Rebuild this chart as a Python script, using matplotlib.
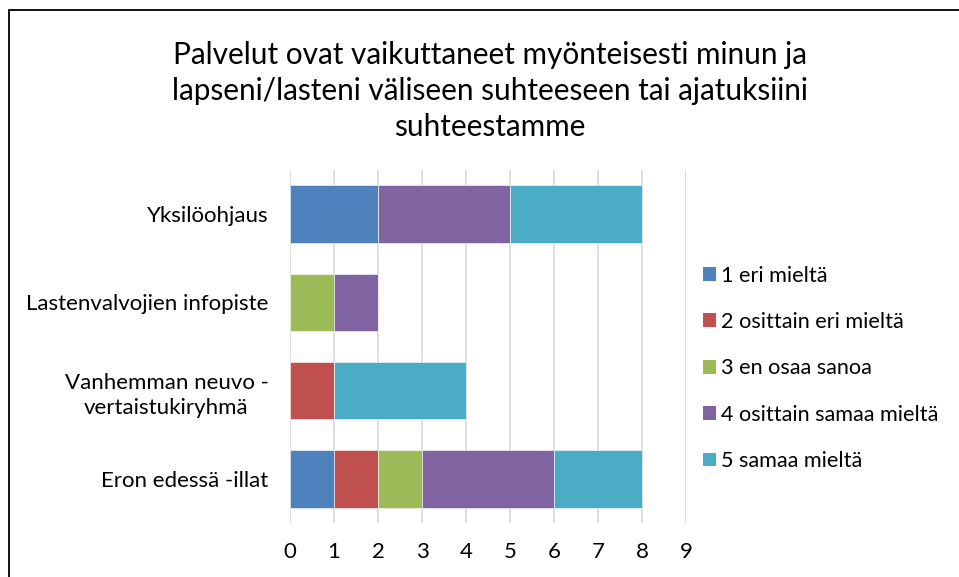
import numpy as np
import matplotlib.pyplot as plt
from matplotlib.patches import Rectangle, Patch

plt.rcParams['font.family'] = ['Lato', 'DejaVu Sans']

categories = ["Eron edessä -illat", "Vanhemman neuvo -\nvertaistukiryhmä",
              "Lastenvalvojien infopiste", "Yksilöohjaus"]
series_names = ["1 eri mieltä", "2 osittain eri mieltä", "3 en osaa sanoa",
                "4 osittain samaa mieltä", "5 samaa mieltä"]
# rows follow categories (bottom to top), columns follow series
values = np.array([
    [1, 1, 1, 3, 2],
    [0, 1, 0, 0, 3],
    [0, 0, 1, 1, 0],
    [2, 0, 0, 3, 3],
])
colors = ["#4F81BD", "#C0504D", "#9BBB59", "#8064A2", "#4BACC6"]

W, H = 959, 577
fig = plt.figure(figsize=(W / 100, H / 100), dpi=100)
ax = fig.add_axes([290 / W, 1 - 523 / H, (686 - 290) / W, (523 - 170) / H])

y = np.arange(len(categories))
left = np.zeros(len(categories))
for i in range(len(series_names)):
    ax.barh(y, values[:, i], left=left, height=0.65, color=colors[i],
            edgecolor="white", linewidth=0.4, zorder=3)
    left += values[:, i]

ax.set_xlim(0, 9)
ax.set_ylim(-0.5, len(categories) - 0.5)
ax.set_xticks(range(10))
ax.set_yticks(y)
ax.set_yticklabels(categories, multialignment="center", linespacing=1.35)
ax.tick_params(axis="both", length=0, labelsize=16, colors="#000000")
ax.tick_params(axis="y", pad=15.5)
ax.tick_params(axis="x", pad=14)
ax.grid(axis="x", color="#D9D9D9", linewidth=1.2, zorder=0)
for s in ax.spines.values():
    s.set_visible(False)

fig.text(490 / W, 1 - 91 / H,
         "Palvelut ovat vaikuttaneet myönteisesti minun ja\n"
         "lapseni/lasteni väliseen suhteeseen tai ajatuksiini\n"
         "suhteestamme",
         ha="center", va="center", fontsize=21.4, linespacing=1.35)

handles = [Patch(facecolor=c, edgecolor="none") for c in colors]
fig.legend(handles, series_names, loc="upper left",
           bbox_to_anchor=(683 / W, 1 - 246 / H), frameon=False,
           fontsize=15.6, handlelength=0.6, handleheight=0.6,
           handletextpad=0.25, labelspacing=1.22)

fig.patches.append(Rectangle((8.5 / W, -0.1), 2, (H - 9.5) / H + 0.1,
                             transform=fig.transFigure, fill=False,
                             edgecolor="#000000", linewidth=1.3))

fig.savefig("out.png", dpi=100)
